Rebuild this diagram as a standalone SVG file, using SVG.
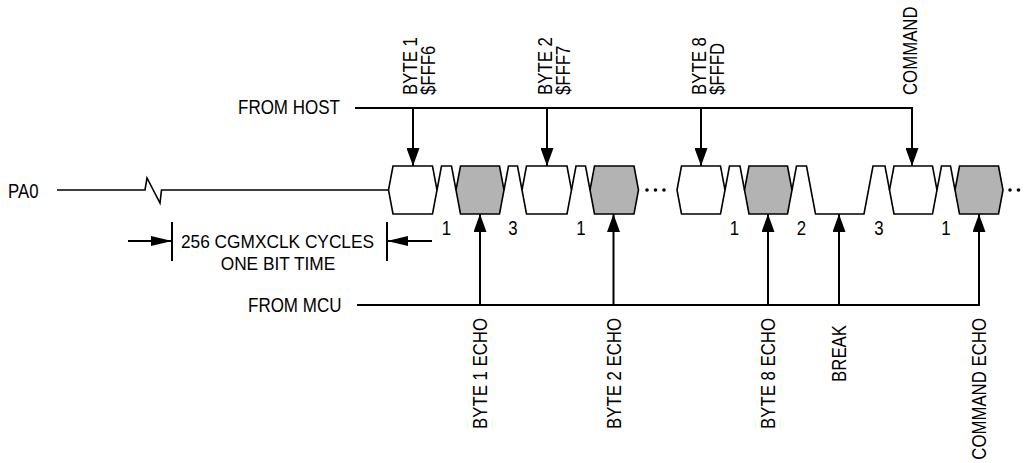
<svg xmlns="http://www.w3.org/2000/svg" width="1025" height="463" viewBox="0 0 1025 463">
  <style>
    .t { font-family: "Liberation Sans", Arial, sans-serif; font-size: 20px; fill: #000; }
    .ts { font-family: "Liberation Sans", Arial, sans-serif; font-size: 19px; fill: #000; }
    .wave { fill: none; stroke: #000; stroke-width: 1.6; stroke-linejoin: miter; }
    .hexw { fill: #fff; stroke: #000; stroke-width: 1.6; }
    .hexg { fill: #b3b3b3; stroke: #000; stroke-width: 1.6; }
    .conn { fill: none; stroke: #000; stroke-width: 2; }
    .dim { fill: none; stroke: #000; stroke-width: 2; }
  </style>
  <defs>
    <marker id="arr" markerUnits="userSpaceOnUse" markerWidth="18" markerHeight="13" refX="18" refY="6.5" orient="auto">
      <path d="M0,0 L18,6.5 L0,13 z" fill="#000"/>
    </marker>
    <marker id="arrs" markerUnits="userSpaceOnUse" markerWidth="21" markerHeight="10" refX="21" refY="5" orient="auto">
      <path d="M0,0 L21,5 L0,10 z" fill="#000"/>
    </marker>
  </defs>

  <g id="labels">
    <text class="t" transform="translate(8,198) scale(0.84,1)">PA0</text>
    <text class="t" transform="translate(238,114) scale(0.85,1)">FROM HOST</text>
    <text class="t" transform="translate(248,312) scale(0.85,1)">FROM MCU</text>
  </g>

  <g id="pa0-line">
    <path class="wave" d="M57,190 H145 L147,178 L160,203 L161.5,190 H388.5"/>
  </g>

  <g id="waveform">
    <g id="byte1"><polygon class="hexw" points="388.5,190 393,166 432.5,166 437,190 432.5,214 393,214"/></g>
    <g id="byte1-echo"><polygon class="hexg" points="456,190 460.5,166 499.5,166 504,190 499.5,214 460.5,214"/></g>
    <g id="byte2"><polygon class="hexw" points="522,190 526.5,166 567,166 571.5,190 567,214 526.5,214"/></g>
    <g id="byte2-echo"><polygon class="hexg" points="590,190 594.5,166 634,166 638.5,190 634,214 594.5,214"/></g>
    <g id="byte8"><polygon class="hexw" points="677,190 681.5,166 720.5,166 725,190 720.5,214 681.5,214"/></g>
    <g id="byte8-echo"><polygon class="hexg" points="744.5,190 749,166 787.5,166 792,190 787.5,214 749,214"/></g>
    <g id="command"><polygon class="hexw" points="889.5,190 894,166 932.5,166 937,190 932.5,214 894,214"/></g>
    <g id="command-echo"><polygon class="hexg" points="955,190 959.5,166 998.5,166 1003,190 998.5,214 959.5,214"/></g>
    <g id="pulses">
      <polyline class="wave" points="437,190 441.5,166 451.5,166 456,190"/>
      <polyline class="wave" points="504,190 508.5,166 517.5,166 522,190"/>
      <polyline class="wave" points="571.5,190 576,166 585.5,166 590,190"/>
      <polyline class="wave" points="725,190 729.5,166 740,166 744.5,190"/>
      <polyline class="wave" points="792,190 796.5,166 806.5,166 815.5,214 864,214 873,166 885,166 889.5,190"/>
      <polyline class="wave" points="937,190 941.5,166 950.5,166 955,190"/>
    </g>
    <g id="dots" fill="#000">
      <circle cx="647" cy="190" r="1.8"/>
      <circle cx="655.5" cy="190" r="1.8"/>
      <circle cx="664" cy="190" r="1.8"/>
      <circle cx="1010" cy="190" r="1.8"/>
      <circle cx="1018.5" cy="190" r="1.8"/>
    </g>
    <g id="bit-numbers" text-anchor="middle">
      <text class="t" transform="translate(446.5,235) scale(0.84,1)">1</text>
      <text class="t" transform="translate(513,235) scale(0.84,1)">3</text>
      <text class="t" transform="translate(581,235) scale(0.84,1)">1</text>
      <text class="t" transform="translate(734.5,235) scale(0.84,1)">1</text>
      <text class="t" transform="translate(801.5,235) scale(0.84,1)">2</text>
      <text class="t" transform="translate(879,235) scale(0.84,1)">3</text>
      <text class="t" transform="translate(946,235) scale(0.84,1)">1</text>
    </g>
  </g>

  <g id="bit-time">
    <path class="dim" d="M172,222 V261 M387,222 V261"/>
    <path class="dim" d="M128,241 H172" marker-end="url(#arrs)"/>
    <path class="dim" d="M432,241 H387" marker-end="url(#arrs)"/>
    <text class="ts" text-anchor="middle" transform="translate(277.5,248) scale(0.91,1)">256 CGMXCLK CYCLES</text>
    <text class="ts" text-anchor="middle" transform="translate(278,269.5) scale(0.91,1)">ONE BIT TIME</text>
  </g>

  <g id="connectors">
    <path class="conn" d="M355,108 H912 V166" marker-end="url(#arr)"/>
    <path class="conn" d="M413,108 V166" marker-end="url(#arr)"/>
    <path class="conn" d="M547,108 V166" marker-end="url(#arr)"/>
    <path class="conn" d="M701,108 V166" marker-end="url(#arr)"/>
    <path class="conn" d="M357,305 H979 V214" marker-end="url(#arr)"/>
    <path class="conn" d="M480,305 V214" marker-end="url(#arr)"/>
    <path class="conn" d="M613.5,305 V214" marker-end="url(#arr)"/>
    <path class="conn" d="M768,305 V214" marker-end="url(#arr)"/>
    <path class="conn" d="M839,305 V214" marker-end="url(#arr)"/>
  </g>

  <g id="host-labels">
    <text class="t" transform="translate(417,95) rotate(-90) scale(0.84,1)">BYTE 1</text>
    <text class="t" transform="translate(435,95) rotate(-90) scale(0.84,1)">$FFF6</text>
    <text class="t" transform="translate(551.5,95) rotate(-90) scale(0.84,1)">BYTE 2</text>
    <text class="t" transform="translate(569.5,95) rotate(-90) scale(0.84,1)">$FFF7</text>
    <text class="t" transform="translate(706,95) rotate(-90) scale(0.84,1)">BYTE 8</text>
    <text class="t" transform="translate(724,95) rotate(-90) scale(0.84,1)">$FFFD</text>
    <text class="t" transform="translate(917,95) rotate(-90) scale(0.84,1)">COMMAND</text>
  </g>

  <g id="mcu-labels" text-anchor="end">
    <text class="t" transform="translate(487,318) rotate(-90) scale(0.84,1)">BYTE 1 ECHO</text>
    <text class="t" transform="translate(620.5,318) rotate(-90) scale(0.84,1)">BYTE 2 ECHO</text>
    <text class="t" transform="translate(775,318) rotate(-90) scale(0.84,1)">BYTE 8 ECHO</text>
    <text class="t" transform="translate(846,325) rotate(-90) scale(0.84,1)">BREAK</text>
    <text class="t" transform="translate(986,318) rotate(-90) scale(0.84,1)">COMMAND ECHO</text>
  </g>
</svg>
